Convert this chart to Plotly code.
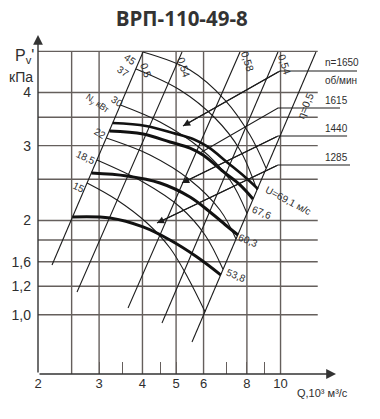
import numpy as np
import plotly.graph_objects as go

TITLE = "ВРП-110-49-8"

# ---------------- axes ----------------
X_TICK_VALS = [2, 2.5, 3, 3.5, 4, 4.5, 5, 6, 7, 8, 9, 10]
X_TICK_TEXT = ["2", "", "3", "", "4", "", "5", "6", "", "8", "", "10"]
Y_TICK_VALS = [1.2, 1.4, 1.6, 2, 3, 4]
Y_TICK_TEXT = ["1,0", "1,2", "1,6", "2", "3", "4"]
X_GRID = [2.5, 3, 4, 5, 6, 8, 10]
Y_GRID = [1.2, 1.4, 1.6, 1.8, 2, 2.5, 3, 3.5, 4, 5]
Q_MIN, Q_GRID_MAX, Q_ARROW = 2.0, 12.8, 14.45
P_GRID_MAX, P_ARROW = 5.0, 5.465

# ---------------- efficiency lines ----------------
ETA_TEXT = ["0,5", "0,54", "0,58", "0,54", "η=0,5"]
ETA_Q = [[2.195, 4.015], [2.591, 5.201], [3.635, 7.641], [4.554, 9.832], [5.557, 12.65]]
ETA_P = [[1.571, 4.984], [1.358, 4.984], [1.245, 4.984], [1.148, 4.984], [1.035, 4.984]]

# ---------------- speed curves (n, об/мин) ----------------
N_TEXT = ["1650", "1615", "1440", "1285"]
U_TEXT = ["U=69,1 м/с", "67,6", "60,3", "53,8"]
N1650_Q = [3.284, 4.096, 4.899, 5.594, 6.180, 7.056, 7.899, 8.610]
N1650_P = [3.392, 3.338, 3.213, 3.110, 2.979, 2.731, 2.532, 2.373]
N1615_Q = [3.211, 4.015, 4.802, 5.484, 5.978, 6.917, 7.641, 8.329]
N1615_P = [3.248, 3.196, 3.060, 2.962, 2.852, 2.587, 2.425, 2.247]
N1440_Q = [2.850, 3.611, 4.494, 5.484, 6.262, 7.056, 7.540]
N1440_P = [2.587, 2.546, 2.451, 2.272, 2.094, 1.931, 1.849]
N1285_Q = [2.515, 3.225, 4.015, 4.802, 5.745, 6.720]
N1285_P = [2.038, 2.027, 1.931, 1.799, 1.641, 1.490]

# ---------------- power lines (Nу, кВт) ----------------
POWER_TEXT = ["45", "37", "30", "22", "18,5", "15"]
POW45_Q = [4.015, 5.484, 6.917, 8.165, 9.080]
POW45_P = [4.984, 4.521, 3.842, 3.179, 2.658]
POW37_Q = [3.833, 5.132, 6.473, 7.641, 8.553]
POW37_P = [4.545, 4.056, 3.485, 2.931, 2.360]
POW30_Q = [3.456, 4.494, 5.860, 7.150, 8.004]
POW30_P = [3.740, 3.411, 2.962, 2.491, 2.080]
POW22_Q = [3.147, 4.206, 5.484, 6.691, 7.441]
POW22_P = [3.127, 2.852, 2.491, 2.117, 1.810]
POW18_Q = [2.957, 4.015, 5.132, 6.058, 6.826]
POW18_P = [2.776, 2.464, 2.152, 1.849, 1.535]
POW15_Q = [2.771, 3.379, 4.123, 4.802, 5.412, 6.058]
POW15_P = [2.451, 2.235, 1.973, 1.723, 1.465, 1.220]

# ---------------- leader lines to n labels ----------------
LEAD_KNEE_Q = [9.963, 9.832, 9.832, 9.832]
LEAD_P = [4.496, 3.679, 3.161, 2.702]
LEAD_END_Q = [16.61, 14.84, 15.55, 15.86]
LEAD_TIP_Q = [5.235, 5.860, 5.201, 4.405]
LEAD_TIP_P = [3.338, 2.883, 2.451, 1.973]
LEAD_ARROW = [True, False, True, True]

# ---------------- styling / label placement ----------------
FONT = "Liberation Sans, Arial, sans-serif"
INK = "#1c1c1c"
TXT = "#2e2e2e"
GRID = "#655f5c"
L = np.log10

ETA_LABEL_POS = [(4.096, 4.521, 72), (5.270, 4.595, 72), (8.057, 4.721, 72),
                 (10.30, 4.645, 72), (11.77, 3.719, -67)]
POWER_LABEL_POS = [(3.682, 4.773, 35), (3.516, 4.472, 35), (3.379, 3.801, 35),
                   (3.018, 3.196, 30), (2.750, 2.821, 25), (2.626, 2.398, 25)]
U_LABEL_POS = [(10.51, 2.223, 28), (8.842, 2.094, 22), (8.057, 1.790, 22), (7.441, 1.481, 22)]
N_LABEL_Y = [3.822, 3.284, 2.821]
N_LABEL_X = 13.25

fig = go.Figure()


def seg_trace(xs, ys, color, width, shape="linear"):
    fig.add_trace(go.Scatter(x=xs, y=ys, mode="lines", hoverinfo="skip",
                             line=dict(color=color, width=width, shape=shape),
                             showlegend=False))


# grid
gx, gy = [], []
for v in Y_GRID:
    gx += [Q_MIN, Q_GRID_MAX, None]
    gy += [v, v, None]
p_axis_min = 10 ** (-0.0602)
for v in X_GRID:
    gx += [v, v, None]
    gy += [p_axis_min, P_GRID_MAX, None]
seg_trace(gx, gy, GRID, 1.4)

# efficiency lines
for q, p in zip(ETA_Q, ETA_P):
    seg_trace(q, p, INK, 1.1)

# power lines
for q, p in [(POW45_Q, POW45_P), (POW37_Q, POW37_P), (POW30_Q, POW30_P),
             (POW22_Q, POW22_P), (POW18_Q, POW18_P), (POW15_Q, POW15_P)]:
    seg_trace(q, p, INK, 1.1, "spline")

# speed curves
for (q, p), w in zip([(N1650_Q, N1650_P), (N1615_Q, N1615_P),
                      (N1440_Q, N1440_P), (N1285_Q, N1285_P)], [2.6, 3.0, 3.0, 3.0]):
    seg_trace(q, p, "#111111", w, "spline")

# leaders
for kq, lp, eq, tq, tp in zip(LEAD_KNEE_Q, LEAD_P, LEAD_END_Q, LEAD_TIP_Q, LEAD_TIP_P):
    seg_trace([tq, kq, eq], [tp, lp, lp], INK, 1.1)

ann = []
for kq, lp, tq, tp, arrow in zip(LEAD_KNEE_Q, LEAD_P, LEAD_TIP_Q, LEAD_TIP_P, LEAD_ARROW):
    if arrow:
        ann.append(dict(x=L(tq), y=L(tp), ax=L(kq), ay=L(lp), axref="x", ayref="y",
                        xref="x", yref="y", text="", showarrow=True, arrowhead=2,
                        arrowsize=1.3, arrowwidth=1.1, arrowcolor=INK))

# axes arrows
ann.append(dict(x=L(Q_ARROW), y=0, xref="x", yref="paper", ax=L(Q_MIN), ay=0,
                axref="x", text="", showarrow=True, arrowhead=2, arrowsize=1.4,
                arrowwidth=1.4, arrowcolor="#333"))
ann.append(dict(x=0, y=L(P_ARROW), xref="paper", yref="y", ax=0, ay=L(p_axis_min),
                ayref="y", text="", showarrow=True, arrowhead=2, arrowsize=1.4,
                arrowwidth=1.4, arrowcolor="#333"))


def label(text, q, p, angle=0, size=10, xanchor="center"):
    ann.append(dict(x=L(q), y=L(p), xref="x", yref="y", text=text, showarrow=False,
                    textangle=angle, xanchor=xanchor, yanchor="middle",
                    font=dict(family=FONT, size=size, color=TXT)))


for t, (q, p, a) in zip(ETA_TEXT, ETA_LABEL_POS):
    label(t, q, p, a, 10.5)
for t, (q, p, a) in zip(POWER_TEXT, POWER_LABEL_POS):
    label(t, q, p, a, 10)
label("N<sub>у</sub> кВт", 2.959, 3.760, 35, 9)
for t, (q, p, a) in zip(U_TEXT, U_LABEL_POS):
    label(t, q, p, a, 10)
label("n=" + N_TEXT[0], N_LABEL_X, 4.696, 0, 10, "left")
label("об/мин", N_LABEL_X, 4.282, 0, 10, "left")
for t, y in zip(N_TEXT[1:], N_LABEL_Y):
    label(t, N_LABEL_X, y, 0, 10, "left")

# axis titles (paper coordinates of the plot area)
ann.append(dict(x=-0.078, y=0.927, xref="paper", yref="paper", text="P<sub>v</sub>'",
                xanchor="left", yanchor="middle", showarrow=False,
                font=dict(family=FONT, size=16, color=TXT)))
ann.append(dict(x=-0.096, y=0.868, xref="paper", yref="paper", text="кПа",
                xanchor="left", yanchor="middle", showarrow=False,
                font=dict(family=FONT, size=14, color=TXT)))
ann.append(dict(x=0.797, y=-0.056, xref="paper", yref="paper", text="Q,10³ м³/с",
                xanchor="left", yanchor="middle", showarrow=False,
                font=dict(family=FONT, size=11, color=TXT)))

# full-window figure; the page's default 8 px body margin is removed below
fig.update_layout(
    width=380, height=419, autosize=False,
    margin=dict(l=38, r=20, t=32, b=45, pad=0),
    paper_bgcolor="white", plot_bgcolor="white",
    title=dict(text=TITLE, x=181.7 / 380, xref="container", y=1 - 19.0 / 419,
               yanchor="middle", xanchor="center",
               font=dict(family="Open Sans", size=20.5, color="#333", weight=700)),
    xaxis=dict(type="log", range=[0.30103, 1.2290], showgrid=False, zeroline=False,
               showline=False, tickmode="array", tickvals=X_TICK_VALS, ticktext=X_TICK_TEXT,
               ticks="inside", ticklen=12, tickwidth=1.2, tickcolor=GRID,
               tickfont=dict(family=FONT, size=13, color=TXT), automargin=False),
    yaxis=dict(type="log", range=[-0.0602, 0.7446], showgrid=False, zeroline=False,
               showline=False, tickmode="array", tickvals=Y_TICK_VALS, ticktext=Y_TICK_TEXT,
               ticks="", ticklabelstandoff=6,
               tickfont=dict(family=FONT, size=14, color=TXT), automargin=False),
    annotations=ann,
    showlegend=False,
)

fig.write_html("out.html", config={"displayModeBar": False},
               post_script="document.body.style.margin='0';")
